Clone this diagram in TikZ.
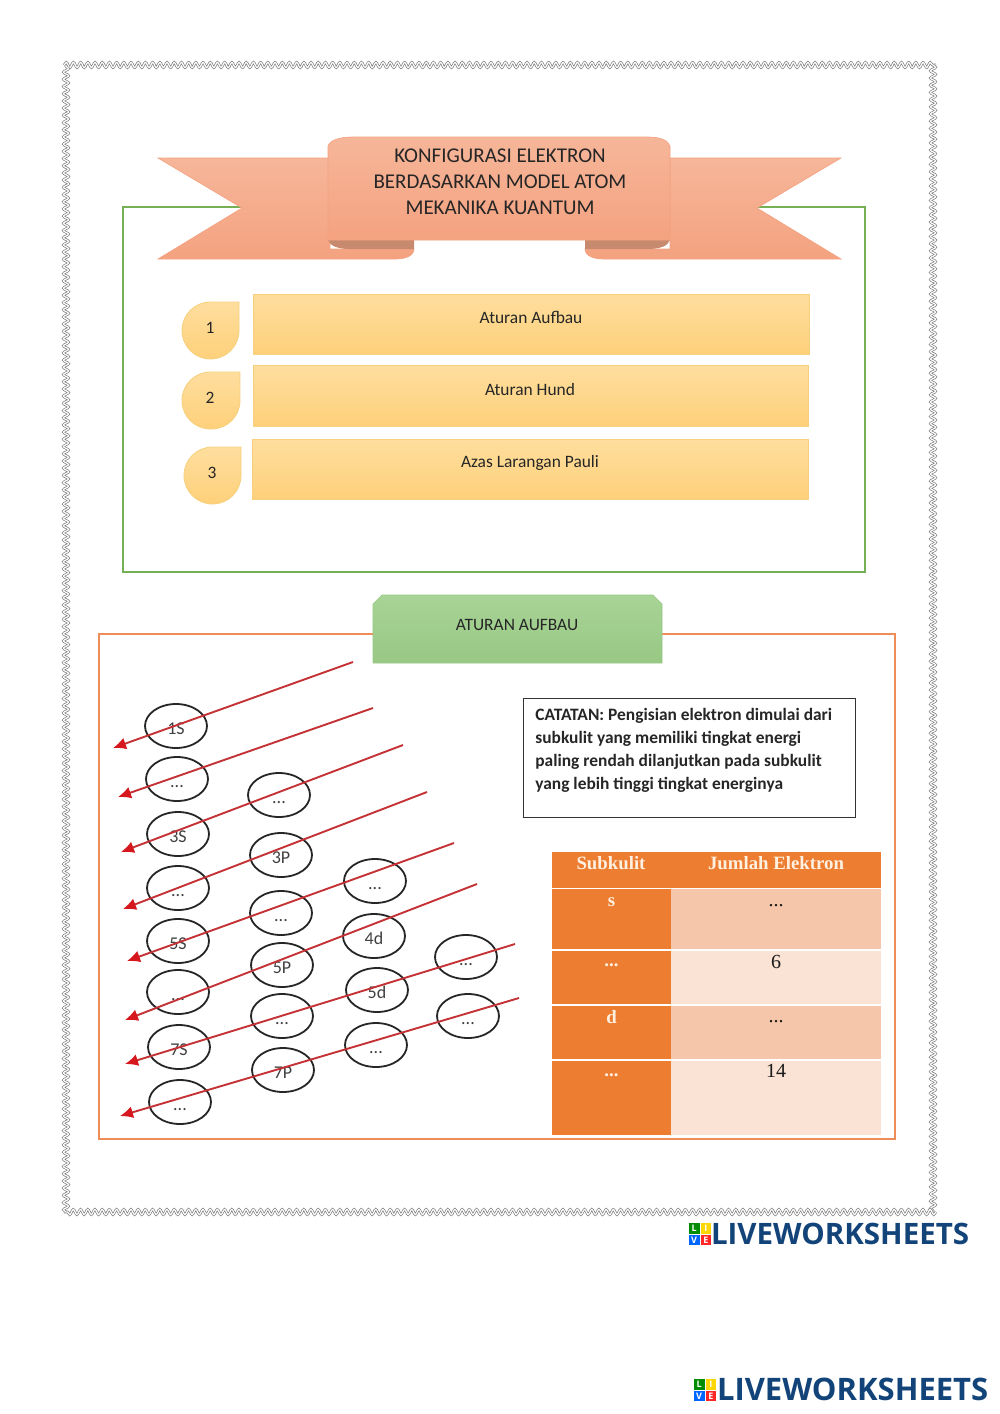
\documentclass[tikz,border=0pt]{standalone}
\usepackage{fontspec}
\setmainfont{Carlito}
\newfontfamily\tablefont{Liberation Serif}
\newfontfamily\logofont{Open Sans}
\usetikzlibrary{arrows.meta,positioning,decorations.pathmorphing,shapes.geometric}
\definecolor{tailtop}{RGB}{246,182,153}
\definecolor{tailcol}{RGB}{244,162,128}
\definecolor{foldcol}{RGB}{200,138,110}
\definecolor{barline}{RGB}{246,208,125}
\definecolor{bartop}{RGB}{254,222,158}
\definecolor{barbot}{RGB}{254,208,122}
\definecolor{tabtop}{RGB}{168,212,150}
\definecolor{tabbot}{RGB}{152,200,132}
\definecolor{boxgreen}{RGB}{118,176,84}
\definecolor{boxorange}{RGB}{238,140,90}
\definecolor{redline}{RGB}{196,50,54}
\definecolor{redtip}{RGB}{214,24,30}
\definecolor{headcol}{RGB}{237,125,49}
\definecolor{darkcell}{RGB}{245,198,170}
\definecolor{lightcell}{RGB}{250,226,212}
\definecolor{navycol}{RGB}{18,68,122}
\begin{document}
\begin{tikzpicture}[>=Latex,x=0.5pt,y=-0.5pt]
  \tikzstyle{wavy}=[draw=black!50,line width=0.35pt,double=white,double distance=0.6pt,decorate,decoration={snake,segment length=3.6pt,amplitude=1.3pt}]
  \tikzstyle{ribbon}=[draw=tailcol,line width=0.3pt,top color=tailtop,bottom color=tailcol]
  \tikzstyle{yellowbar}=[draw=barline,line width=0.4pt,top color=bartop,bottom color=barbot,inner sep=0pt]
  \tikzstyle{plain}=[inner sep=0pt,outer sep=0pt,font=\fontsize{8.7}{10}\selectfont,text=black!85]
  \tikzstyle{orbital}=[draw=black!85,ellipse,line width=0.9pt,minimum width=31pt,minimum height=22pt,inner sep=0pt,text height=8pt,text depth=0pt,font=\fontsize{9}{10}\selectfont,text=black!75]
  \tikzstyle{fillarrow}=[redline,line width=0.95pt,-{Latex[length=6.5pt,width=6pt,color=redtip]}]
  \tikzstyle{headcell}=[fill=headcol,inner sep=0pt,outer sep=0pt]
  \tikzstyle{celltext}=[inner sep=0pt,outer sep=0pt,text height=7pt,text depth=0pt,font=\tablefont\bfseries\fontsize{9.4}{11}\selectfont,text=orange!12!white]
  \tikzstyle{numtext}=[inner sep=0pt,outer sep=0pt,text height=7pt,text depth=0pt,font=\tablefont\fontsize{10}{12}\selectfont,text=black!90]
  \tikzstyle{logobox}=[inner sep=0pt,outer sep=0pt,minimum size=5.4pt,text=white,font=\logofont\bfseries\fontsize{4.5}{5}\selectfont]
  \tikzstyle{logotext}=[inner sep=0pt,outer sep=0pt,anchor=west,text=navycol,font=\logofont\bfseries\fontsize{14.75}{17}\selectfont]

  \useasboundingbox (0,0) rectangle (1000,1414);
  \fill[white] (0,0) rectangle (1000,1414);

  \path[wavy] (64,65) -- (936,65);
  \path[wavy] (933,65) -- (933,1212);
  \path[wavy] (936,1212) -- (64,1212);
  \path[wavy] (66,1212) -- (66,65);

  \draw[boxgreen,line width=0.55pt] (123,207) rectangle (865,572);

  \path[ribbon] (158,158) -- (330,158) -- (330,249) -- (414,249) .. controls (414,256) and (405,259) .. (396,259) -- (158,259) -- (242,208) -- cycle;
  \path[ribbon] (841,158) -- (670,158) -- (670,249) -- (585,249) .. controls (585,256) and (594,259) .. (603,259) -- (841,259) -- (757,208) -- cycle;
  \fill[foldcol] (328,240) .. controls (330,246) and (338,249) .. (350,249) -- (414,249) -- (414,240) -- cycle;
  \fill[foldcol] (670,240) .. controls (668,246) and (660,249) .. (648,249) -- (585,249) -- (585,240) -- cycle;
  \path[ribbon] (328,240) -- (328,146) .. controls (330,140) and (340,137) .. (352,137) -- (648,137) .. controls (660,137) and (668,140) .. (670,146) -- (670,240) -- cycle;
  \node[plain,align=center,font=\fontsize{10.5}{13}\selectfont] (title) at (500,182) {KONFIGURASI ELEKTRON\\BERDASARKAN MODEL ATOM\\MEKANIKA KUANTUM};

  \path[yellowbar] (239,302) [rounded corners=14.2pt] -- (239,359) -- (182,359) -- (182,302) [sharp corners] -- cycle;
  \path[yellowbar] (240,372) [rounded corners=14.2pt] -- (240,429) -- (182,429) -- (182,372) [sharp corners] -- cycle;
  \path[yellowbar] (241,447) [rounded corners=14.2pt] -- (241,504) -- (184,504) -- (184,447) [sharp corners] -- cycle;
  \node[plain] (num1) at (210,327.5) {1};
  \node[plain] (num2) at (210,397.5) {2};
  \node[plain] (num3) at (212,472.5) {3};

  \path[yellowbar] (253,294) rectangle (809,354);
  \path[yellowbar] (253,365) rectangle (808,426);
  \path[yellowbar] (252,439) rectangle (808,499);
  \node[plain] (aufbau) at (531,317) {Aturan Aufbau};
  \node[plain] (hund) at (530,390) {Aturan Hund};
  \node[plain] (pauli) at (530,463) {Azas Larangan Pauli};

  \draw[boxorange,line width=0.6pt] (99,634) rectangle (895,1139);
  \path[draw=tabbot,line width=0.3pt,top color=tabtop,bottom color=tabbot] (373,663) -- (373,604) -- (382,595) -- (653,595) -- (662,604) -- (662,663) -- cycle;
  \node[plain] (tab) at (517,625) {ATURAN AUFBAU};

  \node[orbital] (s1) at (176,726) {1S};
  \node[orbital] (s2) at (177,779) {...};
  \node[orbital] (s3) at (178,834) {3S};
  \node[orbital] (s4) at (178,888) {...};
  \node[orbital] (s5) at (178,941) {5S};
  \node[orbital] (s6) at (178,992) {...};
  \node[orbital] (s7) at (179,1047) {7S};
  \node[orbital] (s8) at (180,1102) {...};
  \node[orbital] (p1) at (279,795) {...};
  \node[orbital] (p2) at (281,855) {3P};
  \node[orbital] (p3) at (281,913) {...};
  \node[orbital] (p4) at (282,965) {5P};
  \node[orbital] (p5) at (282,1016) {...};
  \node[orbital] (p6) at (283,1070) {7P};
  \node[orbital] (d1) at (375,881) {...};
  \node[orbital] (d2) at (374,936) {4d};
  \node[orbital] (d3) at (377,990) {5d};
  \node[orbital] (d4) at (376,1045) {...};
  \node[orbital] (f1) at (466,957) {...};
  \node[orbital] (f2) at (468,1016) {...};

  \coordinate (a1) at (353,662);
  \coordinate (b1) at (113,748);
  \coordinate (a2) at (373,708);
  \coordinate (b2) at (118,797);
  \coordinate (a3) at (403,745);
  \coordinate (b3) at (121,852);
  \coordinate (a4) at (427,792);
  \coordinate (b4) at (123,909);
  \coordinate (a5) at (454,843);
  \coordinate (b5) at (127,961);
  \coordinate (a6) at (477,884);
  \coordinate (b6) at (125,1020);
  \coordinate (a7) at (515,944);
  \coordinate (b7) at (125,1064);
  \coordinate (a8) at (519,998);
  \coordinate (b8) at (120,1116);
  \draw[fillarrow] (a1) -- (b1);
  \draw[fillarrow] (a2) -- (b2);
  \draw[fillarrow] (a3) -- (b3);
  \draw[fillarrow] (a4) -- (b4);
  \draw[fillarrow] (a5) -- (b5);
  \draw[fillarrow] (a6) -- (b6);
  \draw[fillarrow] (a7) -- (b7);
  \draw[fillarrow] (a8) -- (b8);

  \draw[black!80,line width=0.4pt] (523,698) rectangle (855,817);
  \node[inner sep=0pt,anchor=north west,align=left,font=\bfseries\fontsize{8.7}{11.5}\selectfont,text=black!85] (note) at (535,708) {CATATAN: Pengisian elektron dimulai dari\\subkulit yang memiliki tingkat energi\\paling rendah dilanjutkan pada subkulit\\yang lebih tinggi tingkat energinya};

  \node[headcell,anchor=north west,minimum width=164.5pt,minimum height=18pt] (head) at (552,852) {};
  \node[headcell,below right=0.5pt and 0pt of head.south west,minimum width=59.5pt,minimum height=30pt] (ls) {};
  \node[headcell,below right=1pt and 0pt of ls.south west,minimum width=59.5pt,minimum height=26.5pt] (lp) {};
  \node[headcell,below right=1pt and 0pt of lp.south west,minimum width=59.5pt,minimum height=26.5pt] (ld) {};
  \node[headcell,below right=1pt and 0pt of ld.south west,minimum width=59.5pt,minimum height=37pt] (lf) {};
  \node[headcell,fill=darkcell,right=0pt of ls,minimum width=105pt,minimum height=30pt] (rs) {};
  \node[headcell,fill=lightcell,right=0pt of lp,minimum width=105pt,minimum height=26.5pt] (rp) {};
  \node[headcell,fill=darkcell,right=0pt of ld,minimum width=105pt,minimum height=26.5pt] (rd) {};
  \node[headcell,fill=lightcell,right=0pt of lf,minimum width=105pt,minimum height=37pt] (rf) {};
  \node[celltext] (sub) at (611,862) {Subkulit};
  \node[celltext] (jum) at (776,862) {Jumlah Elektron};
  \node[celltext,below=1.5pt of ls.north] (ts) {s};
  \node[celltext,below=0.5pt of lp.north] (tp) {...};
  \node[celltext,below=1.5pt of ld.north] (td) {d};
  \node[celltext,below=0.5pt of lf.north] (tf) {...};
  \node[numtext,below=1.5pt of rs.north] (ns) {...};
  \node[numtext,below=1.5pt of rp.north] (np) {6};
  \node[numtext,below=1pt of rd.north] (nd) {...};
  \node[numtext,below=1pt of rf.north] (nf) {14};

  \node[logobox,fill=green!55!black,anchor=south east] (la) at (699.5,1233.5) {L};
  \node[logobox,fill=yellow!75!orange,anchor=south west] (lb) at (700.5,1233.5) {I};
  \node[logobox,fill=blue!60!cyan,anchor=north east] (lc) at (699.5,1234.5) {V};
  \node[logobox,fill=red!80!pink,anchor=north west] (le) at (700.5,1234.5) {E};
  \node[logotext] (logoa) at (711,1233.5) {LIVEWORKSHEETS};
  \node[logobox,fill=green!55!black,anchor=south east] (ma) at (704.5,1389.5) {L};
  \node[logobox,fill=yellow!75!orange,anchor=south west] (mb) at (705.5,1389.5) {I};
  \node[logobox,fill=blue!60!cyan,anchor=north east] (mc) at (704.5,1390.5) {V};
  \node[logobox,fill=red!80!pink,anchor=north west] (me) at (705.5,1390.5) {E};
  \node[logotext,font=\logofont\bfseries\fontsize{15.5}{18}\selectfont] (logob) at (717,1389.5) {LIVEWORKSHEETS};
\end{tikzpicture}
\end{document}
